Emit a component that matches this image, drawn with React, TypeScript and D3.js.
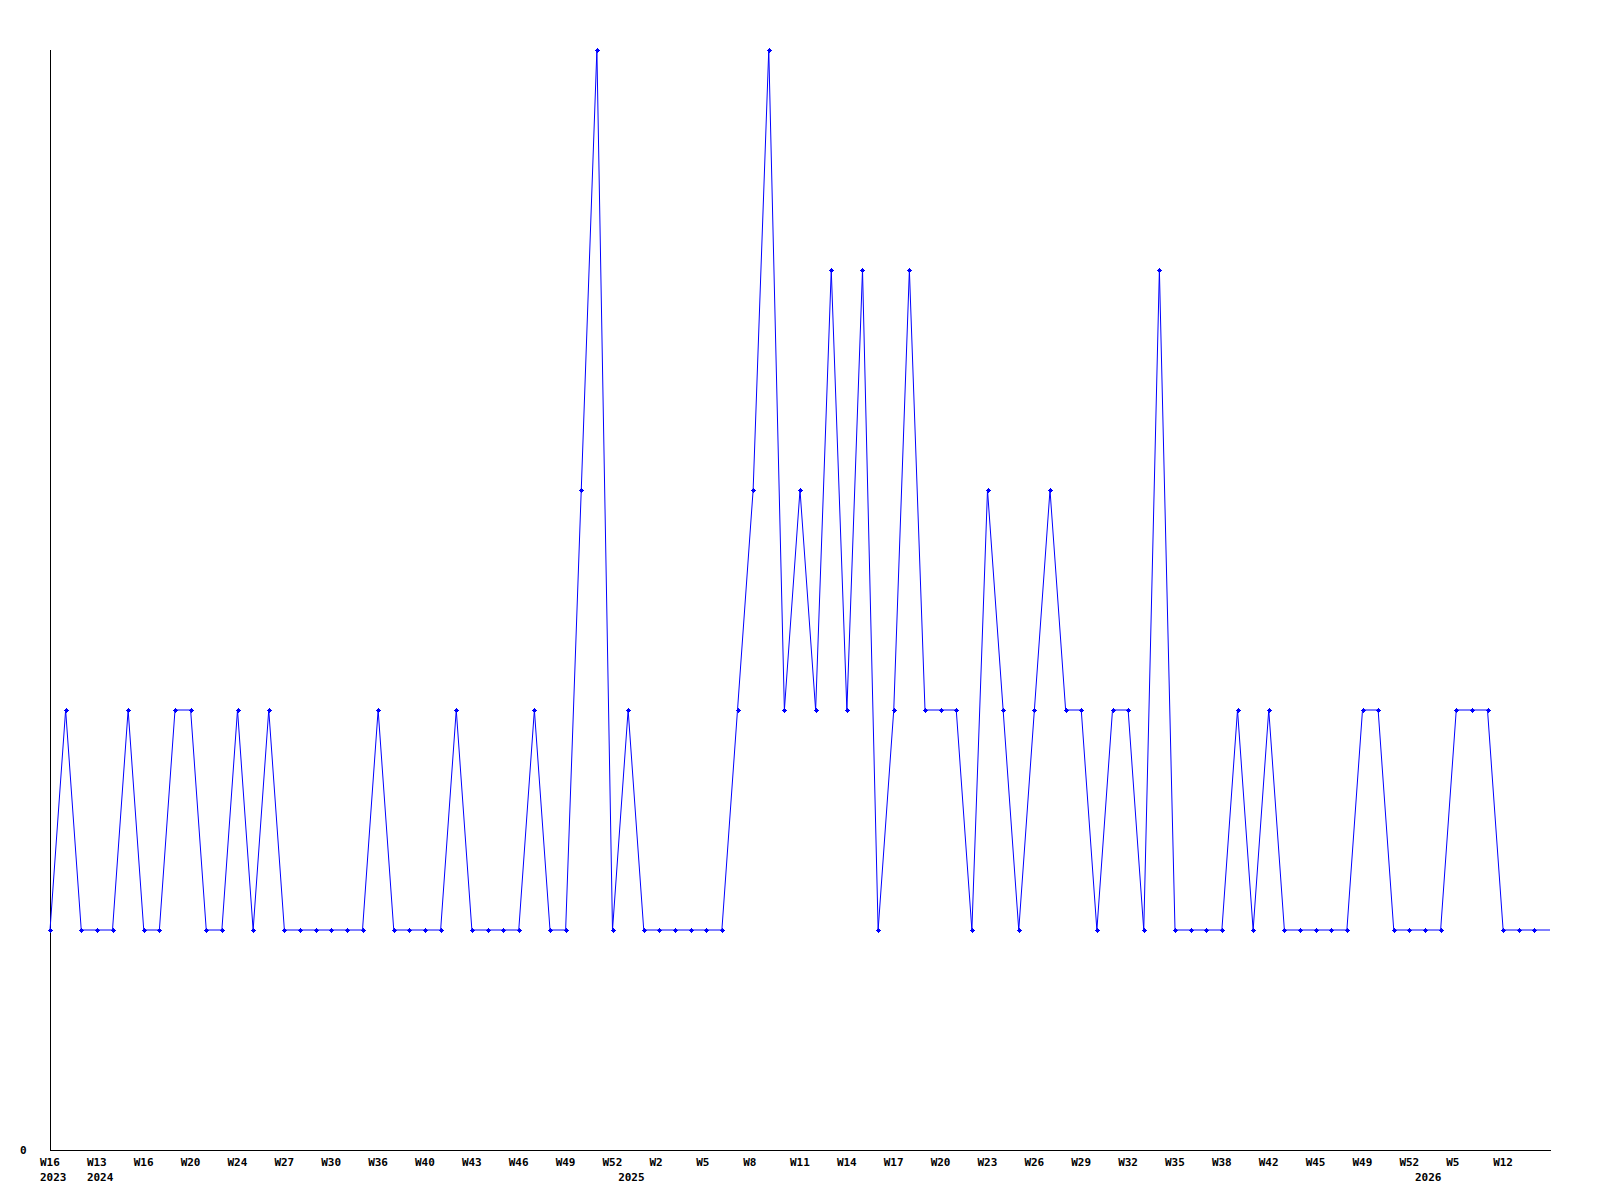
import React from "react";
import * as d3 from "d3";

// Weekly values, one per point (weeks without activity are skipped)
const values: number[] = [
  1, 2, 1, 1, 1, 2, 1, 1, 2, 2,
  1, 1, 2, 1, 2, 1, 1, 1, 1, 1,
  1, 2, 1, 1, 1, 1, 2, 1, 1, 1,
  1, 2, 1, 1, 3, 5, 1, 2, 1, 1,
  1, 1, 1, 1, 2, 3, 5, 2, 3, 2,
  4, 2, 4, 1, 2, 4, 2, 2, 2, 1,
  3, 2, 1, 2, 3, 2, 2, 1, 2, 2,
  1, 4, 1, 1, 1, 1, 2, 1, 2, 1,
  1, 1, 1, 1, 2, 2, 1, 1, 1, 1,
  2, 2, 2, 1, 1, 1, 1,
];

// Week labels shown on every third point
const tickLabels: string[] = [
  "W16", "W13", "W16", "W20", "W24", "W27", "W30", "W36", "W40", "W43",
  "W46", "W49", "W52", "W2", "W5", "W8", "W11", "W14", "W17", "W20",
  "W23", "W26", "W29", "W32", "W35", "W38", "W42", "W45", "W49", "W52",
  "W5", "W12",
];
const tickEvery = 3;

// Year labels and the point where each year starts
const yearLabels: string[] = ["2023", "2024", "2025", "2026"];
const yearStartIndex: number[] = [0, 3, 37, 88];

const yMax = 5;

export default function App() {
  const width = 1600;
  const height = 1200;
  const left = 50;
  const right = 1550;
  const top = 50;
  const bottom = 1150;

  const x = d3.scaleLinear().domain([0, values.length - 1]).range([left, right]);
  const y = d3.scaleLinear().domain([0, yMax]).range([bottom, top]);

  const line = d3
    .line<number>()
    .x((_, i) => x(i))
    .y((d) => y(d));

  const font = "'DejaVu Sans Mono', monospace";

  return (
    <svg
      width={width}
      height={height}
      style={{ position: "absolute", left: 0, top: 0, background: "#fff" }}
      fontFamily={font}
      fontWeight="bold"
      fontSize={11}
    >
      <rect x={0} y={0} width={width} height={height} fill="#fff" />
      {/* axes */}
      <line x1={left + 0.5} x2={left + 0.5} y1={top} y2={bottom + 0.5} stroke="#000" shapeRendering="crispEdges" />
      <line x1={left} x2={right + 1} y1={bottom + 0.5} y2={bottom + 0.5} stroke="#000" shapeRendering="crispEdges" />
      {/* y label */}
      <text x={20} y={bottom} dy="0.35em" fill="#000">0</text>
      {/* x tick labels */}
      {tickLabels.map((t, k) => (
        <text key={"t" + k} x={x(k * tickEvery) - 10} y={1166} fill="#000">
          {t}
        </text>
      ))}
      {yearLabels.map((t, k) => (
        <text key={"y" + k} x={x(yearStartIndex[k]) - 10} y={1181} fill="#000">
          {t}
        </text>
      ))}
      {/* series */}
      <path d={line(values) || ""} fill="none" stroke="#0000ff" strokeWidth={1} />
      {values.slice(0, values.length - 1).map((v, i) => (
        <g key={"m" + i} transform={`translate(${Math.round(x(i))},${Math.round(y(v))})`} fill="#0000ff" shapeRendering="crispEdges">
          <rect x={-1} y={-1} width={3} height={3} />
          <rect x={-2} y={0} width={5} height={1} />
          <rect x={0} y={-2} width={1} height={5} />
        </g>
      ))}
    </svg>
  );
}
